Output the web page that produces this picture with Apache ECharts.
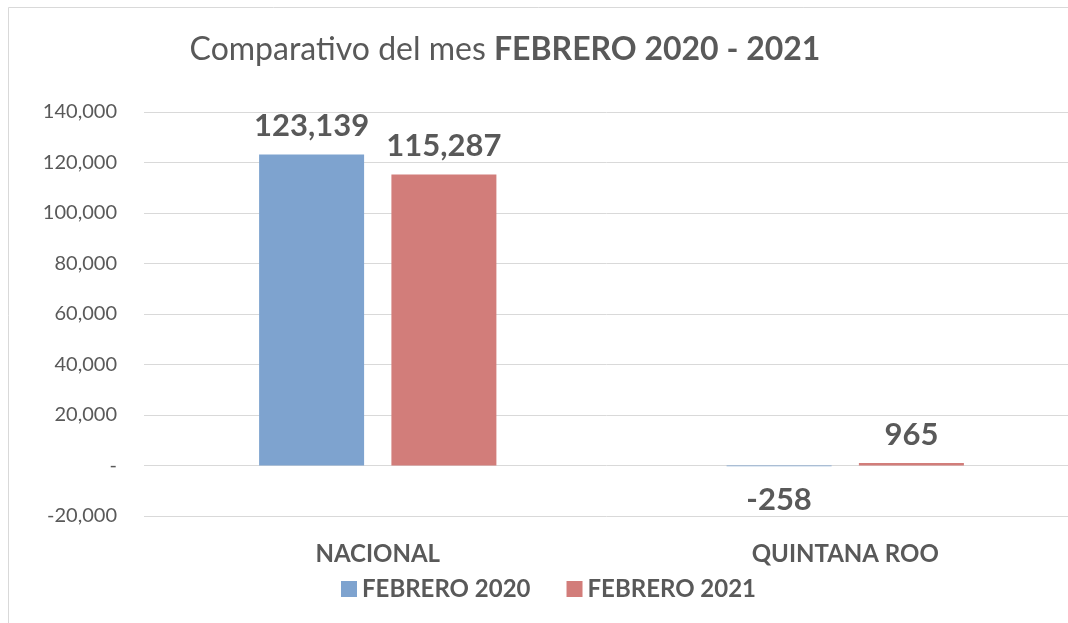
<!DOCTYPE html>
<html><head><meta charset="utf-8">
<script src="https://cdn.jsdelivr.net/npm/echarts@6/dist/echarts.min.js"></script>
<style>html,body{margin:0;padding:0;background:#fff}#c{width:1068px;height:623px}</style>
</head><body><div id="c"></div>
<script>
const categories = ['NACIONAL', 'QUINTANA ROO'];
const seriesNames = ['FEBRERO 2020', 'FEBRERO 2021'];
const feb2020 = [123139, -258];
const feb2021 = [115287, 965];
const yTicks = [-20000, 0, 20000, 40000, 60000, 80000, 100000, 120000, 140000];

const fmt = v => v === 0 ? '-' : v.toLocaleString('en-US');
const font = 'Lato, "Open Sans", sans-serif';
const chart = echarts.init(document.getElementById('c'));
const labelStyle = {show: true, fontFamily: font, fontSize: 31, fontWeight: 'bold', color: '#595959', distance: 13,
  formatter: p => fmt(p.value), position: 'top'};
function mkData(arr) {
  return arr.map(v => ({value: v, label: v < 0 ? {position: 'bottom', distance: 18} : {position: 'top'}}));
}
chart.setOption({
  animation: false,
  backgroundColor: '#fff',
  graphic: [{type: 'rect', shape: {x: 8.5, y: 7.5, width: 1080, height: 640}, style: {fill: 'none', stroke: '#d9d9d9', lineWidth: 1}}],
  title: {
    text: '{n|Comparativo del mes }{b|FEBRERO 2020 - 2021}',
    left: 500, top: 29, textAlign: 'center',
    textStyle: {rich: {
      n: {fontFamily: font, fontSize: 32, fontWeight: 'normal', color: '#595959'},
      b: {fontFamily: font, fontSize: 32, fontWeight: 'bold', color: '#595959'}
    }}
  },
  legend: {
    data: seriesNames, top: 572, left: 336, itemWidth: 16, itemHeight: 16, itemGap: 36,
    icon: 'rect',
    textStyle: {fontFamily: font, fontSize: 24, fontWeight: 'bold', color: '#595959'}
  },
  grid: {left: 144, width: 935, top: 112, bottom: 107, containLabel: false, outerBoundsMode: 'none'},
  xAxis: {
    type: 'category', data: categories,
    axisLine: {show: false}, axisTick: {show: false},
    axisLabel: {fontFamily: font, fontSize: 24, fontWeight: 'bold', color: '#595959', margin: 26}
  },
  yAxis: {
    type: 'value', min: -20000, max: 140000, interval: 20000,
    axisLine: {show: false}, axisTick: {show: false},
    axisLabel: {fontFamily: font, fontSize: 20, color: '#595959', margin: 27, formatter: v => fmt(v)},
    splitLine: {lineStyle: {color: '#d9d9d9', width: 1}}
  },
  series: [
    {name: seriesNames[0], type: 'bar', data: mkData(feb2020), barWidth: 105, barGap: '26%',
     itemStyle: {color: '#7ea3cf'}, label: labelStyle},
    {name: seriesNames[1], type: 'bar', data: mkData(feb2021), barWidth: 105,
     itemStyle: {color: '#d27d7a'}, label: labelStyle}
  ]
});
</script></body></html>
